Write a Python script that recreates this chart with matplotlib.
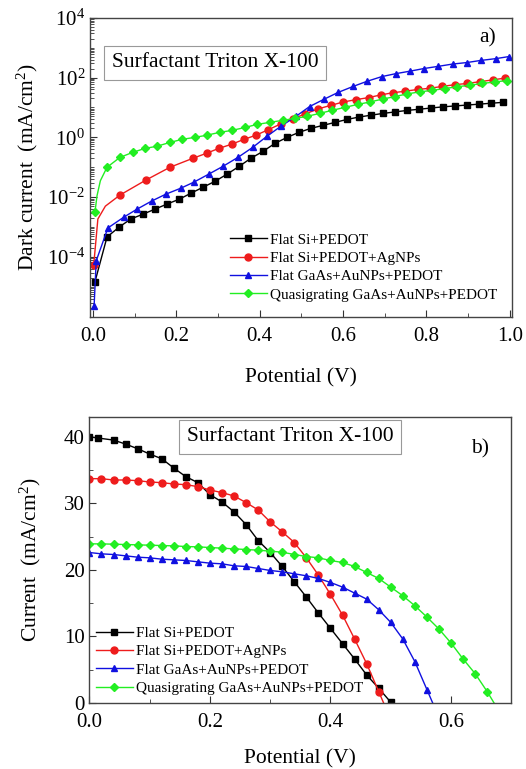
import math
import matplotlib
matplotlib.use("Agg")
import matplotlib.pyplot as plt
from matplotlib.ticker import FixedLocator, MultipleLocator, LogLocator, NullFormatter, FuncFormatter

plt.rcParams['font.family'] = ['Liberation Serif', 'DejaVu Serif']
plt.rcParams['mathtext.fontset'] = 'custom'
plt.rcParams['mathtext.rm'] = 'Liberation Serif'
plt.rcParams['mathtext.it'] = 'Liberation Serif:italic'

labels = ['Flat Si+PEDOT', 'Flat Si+PEDOT+AgNPs',
          'Flat GaAs+AuNPs+PEDOT', 'Quasigrating GaAs+AuNPs+PEDOT']
colors = ['#000000', '#ee1c1c', '#1010e0', '#22ee22']
markers = ['s', 'o', '^', 'D']

# ---- a) dark current, log10 of mA/cm2 ----
dark_black_v = [0.005, 0.034, 0.063, 0.091, 0.120, 0.149, 0.178, 0.207, 0.235, 0.264,
                0.293, 0.322, 0.351, 0.379, 0.408, 0.437, 0.466, 0.495, 0.523, 0.552,
                0.581, 0.610, 0.639, 0.667, 0.696, 0.725, 0.754, 0.783, 0.811, 0.840,
                0.869, 0.898, 0.927, 0.955, 0.984]
dark_black_log = [-4.83, -3.33, -3.00, -2.73, -2.57, -2.40, -2.23, -2.07, -1.87, -1.67,
                  -1.47, -1.23, -0.97, -0.70, -0.47, -0.20, 0.00, 0.17, 0.30, 0.40,
                  0.50, 0.60, 0.68, 0.74, 0.80, 0.85, 0.90, 0.94, 0.98, 1.02,
                  1.05, 1.08, 1.11, 1.14, 1.17]

dark_red_v = [0.002, 0.012, 0.030, 0.065, 0.127, 0.185, 0.240, 0.273, 0.302, 0.333,
              0.362, 0.391, 0.420, 0.451, 0.480, 0.509, 0.540, 0.571, 0.600, 0.631,
              0.662, 0.691, 0.719, 0.748, 0.779, 0.808, 0.837, 0.868, 0.897, 0.928,
              0.959, 0.988]
dark_red_log = [-4.27, -2.73, -2.30, -1.93, -1.43, -1.00, -0.70, -0.53, -0.37, -0.23,
                -0.07, 0.07, 0.25, 0.45, 0.62, 0.78, 0.95, 1.07, 1.18, 1.26,
                1.33, 1.42, 1.49, 1.54, 1.60, 1.64, 1.70, 1.76, 1.80, 1.86,
                1.92, 1.98]
dark_red_marks = [0] + list(range(3, 32))

dark_blue_v = [0.003, 0.008, 0.036, 0.074, 0.106, 0.141, 0.175, 0.211, 0.242, 0.278,
               0.312, 0.348, 0.384, 0.417, 0.451, 0.487, 0.520, 0.554, 0.588, 0.624,
               0.657, 0.693, 0.727, 0.760, 0.794, 0.827, 0.863, 0.897, 0.930, 0.966,
               0.998]
dark_blue_log = [-5.63, -4.13, -3.03, -2.67, -2.40, -2.13, -1.90, -1.70, -1.50, -1.23,
                 -0.97, -0.67, -0.33, 0.03, 0.37, 0.70, 1.03, 1.27, 1.50, 1.70,
                 1.87, 2.03, 2.13, 2.21, 2.30, 2.37, 2.45, 2.50, 2.57, 2.63,
                 2.70]

dark_green_v = [0.005, 0.010, 0.018, 0.034, 0.065, 0.096, 0.125, 0.153, 0.185, 0.213,
                0.245, 0.273, 0.305, 0.333, 0.365, 0.393, 0.424, 0.456, 0.484, 0.513,
                0.544, 0.573, 0.604, 0.635, 0.664, 0.695, 0.724, 0.753, 0.784, 0.813,
                0.844, 0.873, 0.904, 0.933, 0.964, 0.993]
dark_green_log = [-2.50, -1.95, -1.45, -1.00, -0.67, -0.50, -0.37, -0.30, -0.17, -0.07,
                  0.00, 0.07, 0.17, 0.23, 0.33, 0.43, 0.50, 0.57, 0.63, 0.70,
                  0.80, 0.90, 1.00, 1.10, 1.18, 1.28, 1.36, 1.45, 1.52, 1.57,
                  1.63, 1.69, 1.74, 1.80, 1.85, 1.90]
dark_green_marks = [0] + list(range(3, 36))

# ---- b) photocurrent, mA/cm2 ----
jv_black_v = [0.0, 0.015, 0.04, 0.06, 0.08, 0.10, 0.12, 0.14, 0.16, 0.18,
              0.20, 0.22, 0.24, 0.26, 0.28, 0.30, 0.32, 0.34, 0.36, 0.38,
              0.40, 0.42, 0.44, 0.46, 0.48, 0.50]
jv_black_i = [40.0, 39.8, 39.5, 38.9, 38.2, 37.4, 36.7, 35.3, 34.0, 33.1,
              31.3, 30.2, 28.7, 26.8, 24.4, 22.6, 20.5, 18.2, 15.9, 13.5,
              11.2, 8.9, 6.6, 4.2, 2.2, 0.1]

jv_red_v = [0.0, 0.02, 0.04, 0.06, 0.08, 0.10, 0.12, 0.14, 0.16, 0.18,
            0.20, 0.22, 0.24, 0.26, 0.28, 0.30, 0.32, 0.34, 0.36, 0.38,
            0.40, 0.42, 0.44, 0.46, 0.48, 0.50]
jv_red_i = [33.7, 33.7, 33.5, 33.5, 33.4, 33.2, 33.1, 32.9, 32.8, 32.5,
            32.0, 31.6, 31.1, 30.1, 29.0, 27.2, 25.7, 24.1, 21.8, 19.2,
            16.3, 13.2, 9.6, 5.9, 1.7, -2.5]

jv_blue_v = [0.0, 0.02, 0.04, 0.06, 0.08, 0.10, 0.12, 0.14, 0.16, 0.18,
             0.20, 0.22, 0.24, 0.26, 0.28, 0.30, 0.32, 0.34, 0.36, 0.38,
             0.40, 0.42, 0.44, 0.46, 0.48, 0.50, 0.52, 0.54, 0.56, 0.58]
jv_blue_i = [22.6, 22.4, 22.3, 22.1, 21.9, 21.8, 21.6, 21.5, 21.4, 21.2,
             21.0, 20.9, 20.6, 20.5, 20.2, 19.9, 19.7, 19.4, 19.1, 18.7,
             18.1, 17.4, 16.5, 15.6, 14.0, 12.1, 9.6, 6.2, 2.0, -2.2]

jv_green_v = [0.0, 0.02, 0.04, 0.06, 0.08, 0.10, 0.12, 0.14, 0.16, 0.18,
              0.20, 0.22, 0.24, 0.26, 0.28, 0.30, 0.32, 0.34, 0.36, 0.38,
              0.40, 0.42, 0.44, 0.46, 0.48, 0.50, 0.52, 0.54, 0.56, 0.58,
              0.60, 0.62, 0.64, 0.66, 0.68]
jv_green_i = [23.9, 23.9, 23.85, 23.8, 23.75, 23.7, 23.65, 23.6, 23.5, 23.45,
              23.35, 23.25, 23.15, 23.05, 22.95, 22.8, 22.65, 22.3, 22.0, 21.8,
              21.4, 21.1, 20.5, 19.6, 18.7, 17.4, 16.1, 14.6, 12.9, 11.1,
              9.0, 6.6, 4.4, 1.7, -1.3]

fig = plt.figure(figsize=(5.26, 7.69), dpi=100)
ax1 = fig.add_axes([0.171, 0.588, 0.802, 0.389])
ax2 = fig.add_axes([0.170, 0.086, 0.802, 0.372])

dark = [(dark_black_v, dark_black_log, None),
        (dark_red_v, dark_red_log, dark_red_marks),
        (dark_blue_v, dark_blue_log, None),
        (dark_green_v, dark_green_log, dark_green_marks)]
for (v, lg, mk), c, m, lab in zip(dark, colors, markers, labels):
    ax1.plot(v, [10 ** x for x in lg], color=c, marker=m, markevery=mk,
             ms=5 if m != 'D' else 4.5, lw=1.0, label=lab)

jv = [(jv_black_v, jv_black_i), (jv_red_v, jv_red_i),
      (jv_blue_v, jv_blue_i), (jv_green_v, jv_green_i)]
for (v, i), c, m, lab in zip(jv, colors, markers, labels):
    ax2.plot(v, i, color=c, marker=m, ms=5 if m != 'D' else 4.5, lw=1.0, label=lab)

# axes a)
ax1.set_yscale('log')
ax1.set_xlim(-0.007, 1.005)
ax1.set_ylim(1e-6, 1e4)
ax1.yaxis.set_major_locator(FixedLocator([1e-4, 1e-2, 1e0, 1e2, 1e4]))
ax1.yaxis.set_minor_locator(LogLocator(base=10, subs=[1, 2, 3, 4, 5, 6, 7, 8, 9], numticks=100))
ax1.yaxis.set_minor_formatter(NullFormatter())
ax1.yaxis.set_major_formatter(FuncFormatter(lambda y, p: r'$10^{%d}$' % round(math.log10(y))))
ax1.xaxis.set_major_locator(MultipleLocator(0.2))
ax1.xaxis.set_minor_locator(MultipleLocator(0.1))
ax1.xaxis.set_major_formatter(FuncFormatter(lambda x, p: '%.1f' % x))
ax1.set_xlabel('Potential (V)', fontsize=15.5, labelpad=16)
ax1.set_ylabel(r'Dark current  (mA/cm$^2$)', fontsize=15.5, labelpad=5)

# axes b)
ax2.set_xlim(0, 0.70)
ax2.set_ylim(0, 43)
ax2.xaxis.set_major_locator(MultipleLocator(0.2))
ax2.xaxis.set_minor_locator(MultipleLocator(0.1))
ax2.xaxis.set_major_formatter(FuncFormatter(lambda x, p: '%.1f' % x))
ax2.yaxis.set_major_locator(MultipleLocator(10))
ax2.yaxis.set_minor_locator(MultipleLocator(5))
ax2.set_xlabel('Potential (V)', fontsize=15.5, labelpad=13)
ax2.set_ylabel(r'Current  (mA/cm$^2$)', fontsize=15.5, labelpad=15)

for ax in (ax1, ax2):
    ax.tick_params(which='both', direction='in', top=False, right=False,
                   labelsize=15, color='#333333')
    ax.tick_params(which='major', length=5)
    ax.tick_params(which='minor', length=3)
    ax.tick_params(axis='x', pad=7)
    for s in ax.spines.values():
        s.set_color('#444444')
        s.set_linewidth(1.0)

box = dict(boxstyle='square,pad=0.35', fc='white', ec='#999999', lw=0.8)
ax1.text(0.296, 0.849, 'Surfactant Triton X-100', transform=ax1.transAxes,
         fontsize=15.5, ha='center', va='center', bbox=box)
ax2.text(0.476, 0.930, 'Surfactant Triton X-100', transform=ax2.transAxes,
         fontsize=15.5, ha='center', va='center', bbox=box)
ax1.text(0.943, 0.933, 'a)', transform=ax1.transAxes, fontsize=15.5, ha='center', va='center')
ax2.text(0.927, 0.888, 'b)', transform=ax2.transAxes, fontsize=15.5, ha='center', va='center')

ax1.legend(loc='lower right', bbox_to_anchor=(0.99, 0.015), frameon=False, fontsize=11,
           handlelength=2.4, handletextpad=0.2, labelspacing=0.3, borderpad=0.2)
ax2.legend(loc='lower left', bbox_to_anchor=(-0.01, -0.01), frameon=False, fontsize=11,
           handlelength=2.4, handletextpad=0.2, labelspacing=0.3, borderpad=0.2)

fig.savefig('out.png', dpi=100)
